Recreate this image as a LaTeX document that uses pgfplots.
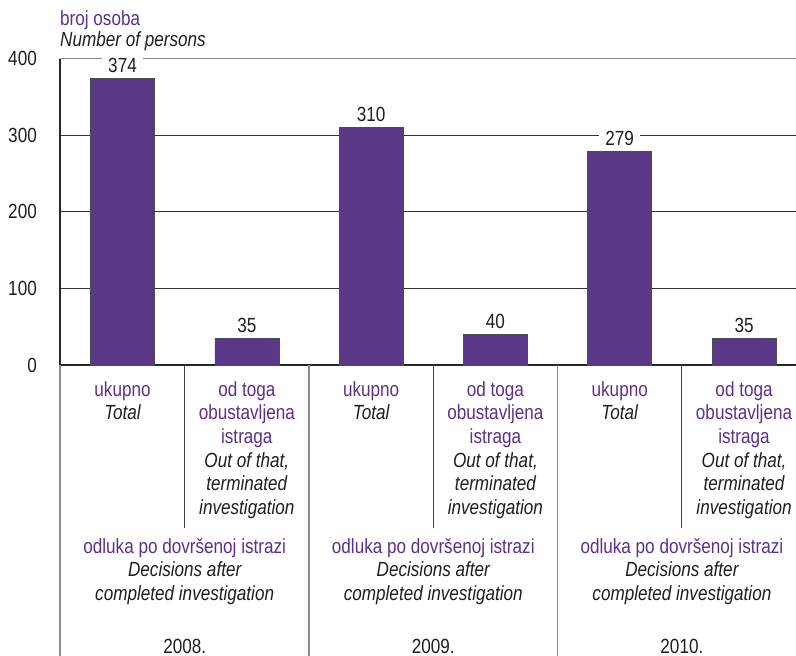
\documentclass[border=0pt]{standalone}
\usepackage{fontspec}
\setmainfont{Liberation Sans}[FakeStretch=0.835]
\usepackage{pgfplots}
\pgfplotsset{compat=1.18}
\definecolor{barfill}{HTML}{5A3787}
\definecolor{ptext}{HTML}{5B2F8F}
\definecolor{txt}{HTML}{1E1E1E}
\newcommand{\fs}{\fontsize{20.5}{24}\selectfont}
\begin{document}
\begin{tikzpicture}[
  pl/.style={anchor=base, text=ptext, font=\fs, inner sep=0pt},
  il/.style={anchor=base, text=txt, font=\fs\itshape, inner sep=0pt},
  nl/.style={anchor=base, text=txt, font=\fs, inner sep=0pt},
  shortsep/.style={black!75, line width=0.8pt},
  longsep/.style={black!45, line width=1.4pt}]
\begin{axis}[
  at={(0,0)}, anchor=south west,
  scale only axis, width=736pt, height=306.5pt,
  xmin=-0.503, xmax=5.418, ymin=0, ymax=400,
  axis x line*=bottom, axis y line*=left,
  axis line style={-, black!85, line width=1.4pt},
  xtick=\empty,
  ytick={0,100,200,300}, extra y ticks={400},
  ymajorgrids, major grid style={black!80, line width=0.6pt},
  extra y tick style={ymajorgrids=true, major grid style={black!45, line width=1.2pt}},
  major tick length=0pt,
  yticklabel style={font=\fs, text=txt, inner sep=0pt, xshift=-23pt},
  /pgf/number format/assume math mode=true,
  ybar, bar width=64pt,
  clip=false,
  nodes near coords,
  every node near coord/.append style={fill=white, inner xsep=6pt, inner ysep=1pt,
     anchor=base, yshift=6pt, text=txt, font=\fs},
]
\addplot[fill=barfill, draw=black!70, line width=0.6pt]
  coordinates {(0,374) (1,35) (2,310) (3,40) (4,279) (5,35)};

% axis title
\node[pl, anchor=base west] at (axis cs:-0.503,400) [yshift=33.5pt] {broj osoba};
\node[il, anchor=base west] at (axis cs:-0.503,400) [yshift=12pt] {Number of persons};

% separators
\draw[longsep] (axis cs:-0.503,0) -- ([yshift=-291pt]axis cs:-0.503,0);
\draw[shortsep] (axis cs:0.5,0) -- ([yshift=-162.7pt]axis cs:0.5,0);
\draw[longsep] (axis cs:1.5,0) -- ([yshift=-291pt]axis cs:1.5,0);
\draw[shortsep] (axis cs:2.5,0) -- ([yshift=-162.7pt]axis cs:2.5,0);
\draw[longsep] (axis cs:3.5,0) -- ([yshift=-291pt]axis cs:3.5,0);
\draw[shortsep] (axis cs:4.5,0) -- ([yshift=-162.7pt]axis cs:4.5,0);

% group 2008
\node[pl] at (axis cs:0,0) [yshift=-31pt] {ukupno};
\node[il] at (axis cs:0,0) [yshift=-54.7pt] {Total};
\node[pl] at (axis cs:1,0) [yshift=-31pt] {od toga};
\node[pl] at (axis cs:1,0) [yshift=-54.7pt] {obustavljena};
\node[pl] at (axis cs:1,0) [yshift=-78.4pt] {istraga};
\node[il] at (axis cs:1,0) [yshift=-102pt] {Out of that,};
\node[il] at (axis cs:1,0) [yshift=-125.8pt] {terminated};
\node[il] at (axis cs:1,0) [yshift=-149.5pt] {investigation};
\node[pl] at (axis cs:0.5,0) [yshift=-188pt] {odluka po dovršenoj istrazi};
\node[il] at (axis cs:0.5,0) [yshift=-211.7pt] {Decisions after};
\node[il] at (axis cs:0.5,0) [yshift=-235.4pt] {completed investigation};
\node[nl] at (axis cs:0.5,0) [yshift=-288pt] {2008.};

% group 2009
\node[pl] at (axis cs:2,0) [yshift=-31pt] {ukupno};
\node[il] at (axis cs:2,0) [yshift=-54.7pt] {Total};
\node[pl] at (axis cs:3,0) [yshift=-31pt] {od toga};
\node[pl] at (axis cs:3,0) [yshift=-54.7pt] {obustavljena};
\node[pl] at (axis cs:3,0) [yshift=-78.4pt] {istraga};
\node[il] at (axis cs:3,0) [yshift=-102pt] {Out of that,};
\node[il] at (axis cs:3,0) [yshift=-125.8pt] {terminated};
\node[il] at (axis cs:3,0) [yshift=-149.5pt] {investigation};
\node[pl] at (axis cs:2.5,0) [yshift=-188pt] {odluka po dovršenoj istrazi};
\node[il] at (axis cs:2.5,0) [yshift=-211.7pt] {Decisions after};
\node[il] at (axis cs:2.5,0) [yshift=-235.4pt] {completed investigation};
\node[nl] at (axis cs:2.5,0) [yshift=-288pt] {2009.};

% group 2010
\node[pl] at (axis cs:4,0) [yshift=-31pt] {ukupno};
\node[il] at (axis cs:4,0) [yshift=-54.7pt] {Total};
\node[pl] at (axis cs:5,0) [yshift=-31pt] {od toga};
\node[pl] at (axis cs:5,0) [yshift=-54.7pt] {obustavljena};
\node[pl] at (axis cs:5,0) [yshift=-78.4pt] {istraga};
\node[il] at (axis cs:5,0) [yshift=-102pt] {Out of that,};
\node[il] at (axis cs:5,0) [yshift=-125.8pt] {terminated};
\node[il] at (axis cs:5,0) [yshift=-149.5pt] {investigation};
\node[pl] at (axis cs:4.5,0) [yshift=-188pt] {odluka po dovršenoj istrazi};
\node[il] at (axis cs:4.5,0) [yshift=-211.7pt] {Decisions after};
\node[il] at (axis cs:4.5,0) [yshift=-235.4pt] {completed investigation};
\node[nl] at (axis cs:4.5,0) [yshift=-288pt] {2010.};
\end{axis}
\pgfresetboundingbox
\useasboundingbox (-60pt,-291pt) rectangle (736pt,365pt);
\end{tikzpicture}
\end{document}
